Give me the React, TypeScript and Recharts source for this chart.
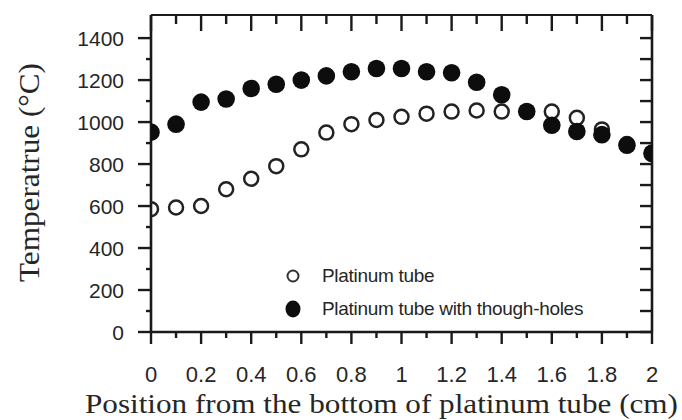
import React from "react";
import { ScatterChart, Scatter, XAxis, YAxis, Legend } from "recharts";

// ---- data ----
const positions = [0, 0.1, 0.2, 0.3, 0.4, 0.5, 0.6, 0.7, 0.8, 0.9, 1.0, 1.1, 1.2, 1.3, 1.4, 1.5, 1.6, 1.7, 1.8, 1.9, 2.0];
const platinumTube = [585, 593, 600, 680, 730, 790, 870, 950, 990, 1010, 1025, 1040, 1050, 1055, 1050, 1050, 1050, 1020, 965, 895, 855];
const platinumTubeHoles = [952, 990, 1095, 1110, 1160, 1180, 1200, 1220, 1240, 1255, 1255, 1240, 1235, 1190, 1130, 1050, 985, 955, 940, 890, 850];
const seriesNames = ["Platinum tube", "Platinum tube with though-holes"];

const xTickValues = [0, 0.1, 0.2, 0.3, 0.4, 0.5, 0.6, 0.7, 0.8, 0.9, 1.0, 1.1, 1.2, 1.3, 1.4, 1.5, 1.6, 1.7, 1.8, 1.9, 2.0];
const xTickLabels = ["0", "0.2", "0.4", "0.6", "0.8", "1", "1.2", "1.4", "1.6", "1.8", "2"];
const yTickValues = [0, 100, 200, 300, 400, 500, 600, 700, 800, 900, 1000, 1100, 1200, 1300, 1400, 1500];
const yTickLabels = ["0", "200", "400", "600", "800", "1000", "1200", "1400"];

const xTitle = "Position from the bottom of platinum tube (cm)";
const yTitle = "Temperatrue (°C)";

const openData = positions.map((x, i) => ({ x, y: platinumTube[i] }));
const filledData = positions.map((x, i) => ({ x, y: platinumTubeHoles[i] }));

// ---- styles ----
const AXIS = "#1a1a1a";
const TEXT = "#262626";
const SANS = "'Liberation Sans', Arial, sans-serif";
const SERIF = "'Liberation Serif', 'Times New Roman', serif";

const BottomTick = (props: any) => {
  const { x, y, index } = props;
  const major = index % 2 === 0;
  return (
    <g>
      <line x1={x} x2={x} y1={y} y2={y + (major ? 12 : 6)} stroke={AXIS} strokeWidth={2.4} />
      {major && (
        <text x={x} y={y + 50} textAnchor="middle" fontFamily={SANS} fontSize={22} fill={TEXT}>
          {xTickLabels[index / 2]}
        </text>
      )}
    </g>
  );
};

const TopTick = (props: any) => {
  const { x, y, index } = props;
  const major = index % 2 === 0;
  return <line x1={x} x2={x} y1={y} y2={y + (major ? 16 : 9)} stroke={AXIS} strokeWidth={2.4} />;
};

const LeftTick = (props: any) => {
  const { x, y, index } = props;
  const major = index % 2 === 0;
  if (index >= yTickValues.length - 1) return <g />;
  return (
    <g>
      <line x1={x} x2={x - (major ? 13 : 5)} y1={y} y2={y} stroke={AXIS} strokeWidth={2.4} />
      {major && (
        <text x={x - 27} y={y + 7.5} textAnchor="end" fontFamily={SANS} fontSize={21} fill={TEXT}>
          {yTickLabels[index / 2]}
        </text>
      )}
    </g>
  );
};

const RightTick = (props: any) => {
  const { x, y, index } = props;
  if (index >= yTickValues.length - 1) return <g />;
  return <line x1={x} x2={x - 12} y1={y} y2={y} stroke={AXIS} strokeWidth={2.4} />;
};

const OpenDot = (props: any) => (
  <circle cx={props.cx} cy={props.cy} r={7} fill="none" stroke="#222" strokeWidth={2.5} />
);
const FilledDot = (props: any) => <circle cx={props.cx} cy={props.cy} r={8.8} fill="#0d0d0d" />;

const LegendContent = () => (
  <div style={{ fontFamily: SANS, fontSize: 19, color: TEXT, lineHeight: "33px" }}>
    {seriesNames.map((name, i) => (
      <div key={name} style={{ display: "flex", alignItems: "center", height: 33 }}>
        <svg width={38} height={22} style={{ display: "block" }}>
          {i === 0 ? (
            <circle cx={9} cy={11} r={5.5} fill="none" stroke="#333" strokeWidth={2} />
          ) : (
            <ellipse cx={9} cy={11} rx={7.5} ry={8.5} fill="#0d0d0d" />
          )}
        </svg>
        <span style={{ whiteSpace: "nowrap", letterSpacing: -0.3 }}>{name}</span>
      </div>
    ))}
  </div>
);

export default function App() {
  return (
    <div style={{ position: "absolute", left: 0, top: 0, width: 682, height: 420, background: "#fff" }}>
      <ScatterChart width={682} height={420} margin={{ top: 14, right: 29, bottom: 0, left: 0 }}>
        <XAxis
          xAxisId="b"
          type="number"
          dataKey="x"
          domain={[0, 2]}
          ticks={xTickValues}
          interval={0}
          height={88}
          tickSize={0}
          tickMargin={0}
          tickLine={false}
          tick={<BottomTick />}
          axisLine={{ stroke: AXIS, strokeWidth: 2.6 }}
          allowDataOverflow
          label={{
            content: () => (
              <text
                x={381.5}
                y={413}
                textAnchor="middle"
                fontFamily={SERIF}
                fontSize={27}
                fill={TEXT}
                textLength={593}
                lengthAdjust="spacingAndGlyphs"
              >
                {xTitle}
              </text>
            ),
          }}
        />
        <XAxis
          xAxisId="t"
          orientation="top"
          type="number"
          dataKey="x"
          domain={[0, 2]}
          ticks={xTickValues}
          interval={0}
          height={1}
          tickSize={0}
          tickMargin={0}
          tickLine={false}
          tick={<TopTick />}
          axisLine={{ stroke: AXIS, strokeWidth: 2.2 }}
          allowDataOverflow
        />
        <YAxis
          yAxisId="l"
          type="number"
          dataKey="y"
          domain={[0, 1510]}
          ticks={yTickValues}
          interval={0}
          width={151}
          tickSize={0}
          tickMargin={0}
          tickLine={false}
          tick={<LeftTick />}
          axisLine={{ stroke: AXIS, strokeWidth: 2.6 }}
          allowDataOverflow
          label={{
            content: () => (
              <text
                transform="translate(39,172.5) rotate(-90)"
                textAnchor="middle"
                fontFamily={SERIF}
                fontSize={30}
                fill={TEXT}
                textLength={219}
                lengthAdjust="spacingAndGlyphs"
              >
                {yTitle}
              </text>
            ),
          }}
        />
        <YAxis
          yAxisId="r"
          orientation="right"
          type="number"
          dataKey="y"
          domain={[0, 1510]}
          ticks={yTickValues}
          interval={0}
          width={1}
          tickSize={0}
          tickMargin={0}
          tickLine={false}
          tick={<RightTick />}
          axisLine={{ stroke: AXIS, strokeWidth: 2.6 }}
          allowDataOverflow
        />
        <Legend
          layout="vertical"
          align="center"
          verticalAlign="middle"
          content={<LegendContent />}
          wrapperStyle={{ position: "absolute", left: 284, top: 259, width: 340 }}
        />
        <Scatter
          name={seriesNames[0]}
          data={openData}
          xAxisId="b"
          yAxisId="l"
          shape={<OpenDot />}
          isAnimationActive={false}
        />
        <Scatter
          name={seriesNames[1]}
          data={filledData}
          xAxisId="b"
          yAxisId="l"
          shape={<FilledDot />}
          isAnimationActive={false}
        />
      </ScatterChart>
    </div>
  );
}
